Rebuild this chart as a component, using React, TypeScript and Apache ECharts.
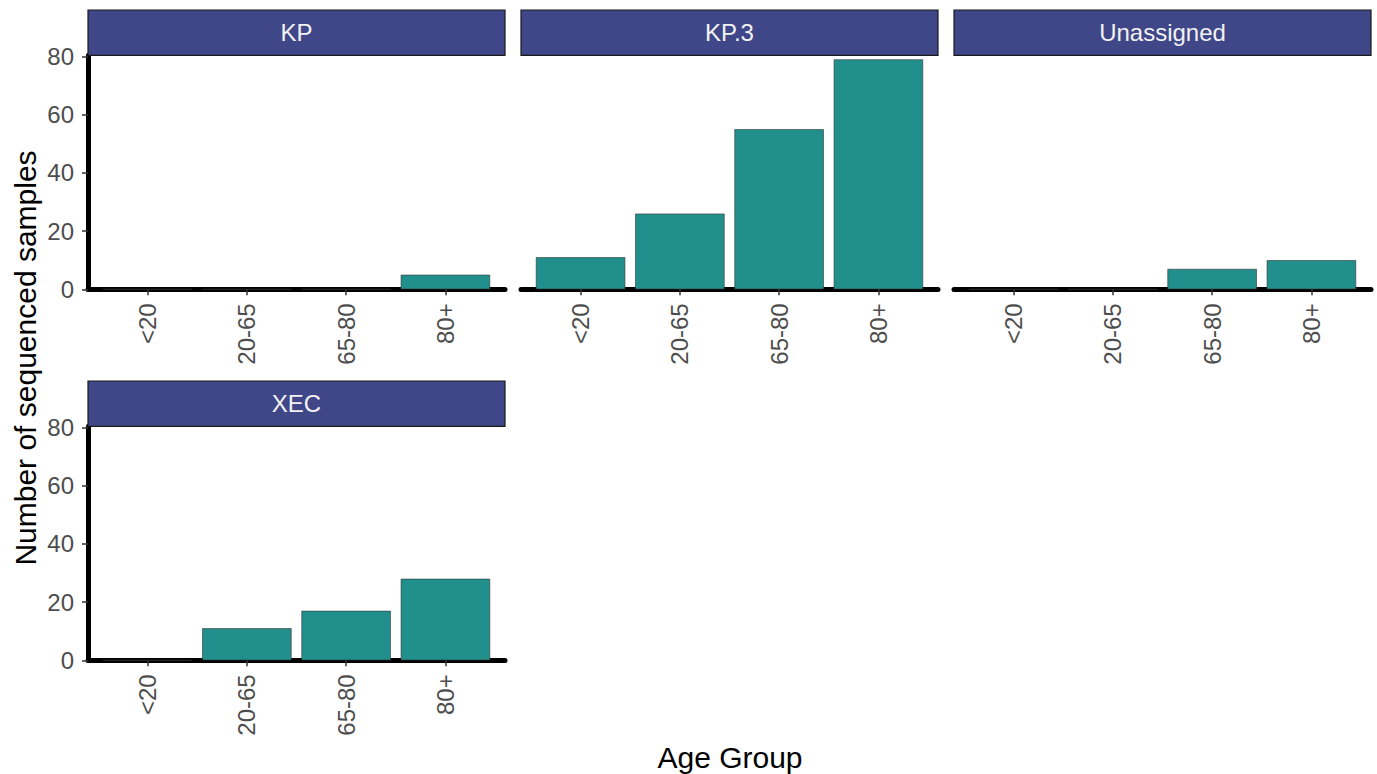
import React, { useEffect, useRef } from "react";
import * as echarts from "echarts";

const ageGroups = ["<20", "20-65", "65-80", "80+"];
const panelNames = ["KP", "KP.3", "Unassigned", "XEC"];
const kpValues = [0, 0, 0, 5];
const kp3Values = [11, 26, 55, 79];
const unassignedValues = [0, 0, 7, 10];
const xecValues = [0, 11, 17, 28];
const yTickValues = [0, 20, 40, 60, 80];
const xTitle = "Age Group";
const yTitle = "Number of sequenced samples";

const W = 1377;
const H = 774;
const FONT = "Liberation Sans, Arial, Helvetica, sans-serif";
const panelW = 417;
const panelH = 234;
const stripH = 45.3;
const xMin = 0.4;
const xMax = 4.6;
const yMax = 80.4;
const layout = [
  { left: 88, top: 55.3, showY: true },
  { left: 521, top: 55.3, showY: false },
  { left: 954, top: 55.3, showY: false },
  { left: 88, top: 426.3, showY: true },
];

export default function App() {
  const ref = useRef<HTMLDivElement>(null);
  useEffect(() => {
    if (!ref.current) return;
    const chart = echarts.init(ref.current, null, { renderer: "svg" });
    const seriesValues = [kpValues, kp3Values, unassignedValues, xecValues];
    const unit = panelW / (xMax - xMin);
    const grids = layout.map((l) => ({
      left: l.left,
      top: l.top,
      width: panelW,
      height: panelH,
      containLabel: false,
    }));
    const xAxes = layout.map((l, i) => ({
      type: "value",
      gridIndex: i,
      min: xMin,
      max: xMax,
      splitLine: { show: false },
      axisLine: { show: true, onZero: false, lineStyle: { color: "#000", width: 5 } },
      axisTick: {
        show: true,
        customValues: [1, 2, 3, 4],
        length: 6,
        lineStyle: { color: "#333", width: 1.5 },
      },
      axisLabel: {
        show: true,
        customValues: [1, 2, 3, 4],
        rotate: 90,
        margin: 14,
        color: "#4D4D4D",
        fontSize: 24,
        fontFamily: FONT,
        formatter: (v: number) => ageGroups[Math.round(v) - 1] ?? "",
      },
    }));
    const yAxes = layout.map((l, i) => ({
      type: "value",
      gridIndex: i,
      min: 0,
      max: yMax,
      show: true,
      splitLine: { show: false },
      axisLine: {
        show: l.showY,
        onZero: false,
        lineStyle: { color: "#000", width: 5 },
      },
      axisTick: {
        show: l.showY,
        customValues: yTickValues,
        length: 6,
        lineStyle: { color: "#333", width: 1.5 },
      },
      axisLabel: {
        show: l.showY,
        customValues: yTickValues,
        margin: 14,
        color: "#4D4D4D",
        fontSize: 24,
        fontFamily: FONT,
      },
    }));
    const series = seriesValues.map((vals, i) => ({
      type: "bar",
      name: panelNames[i],
      xAxisIndex: i,
      yAxisIndex: i,
      barWidth: unit * 0.9,
      data: vals.map((v, k) => [k + 1, v]),
      itemStyle: { color: "#21908C", borderColor: "#333333", borderWidth: 0.6 },
      silent: true,
    }));
    const graphics: any[] = [];
    layout.forEach((l, i) => {
      graphics.push({
        type: "rect",
        shape: { x: l.left, y: l.top - stripH, width: panelW, height: stripH },
        style: { fill: "#3F4788", stroke: "#1a1a1a", lineWidth: 1.2 },
        z: 10,
      });
      graphics.push({
        type: "text",
        x: l.left + panelW / 2,
        y: l.top - stripH / 2,
        style: {
          text: panelNames[i],
          fill: "#F2F2F2",
          fontSize: 24,
          fontFamily: FONT,
          align: "center",
          verticalAlign: "middle",
        },
        z: 11,
      });
    });
    graphics.push({
      type: "text",
      x: 25,
      y: 358,
      rotation: Math.PI / 2,
      style: {
        text: yTitle,
        fill: "#000",
        fontSize: 30,
        fontFamily: FONT,
        align: "center",
        verticalAlign: "middle",
      },
    });
    graphics.push({
      type: "text",
      x: 730,
      y: 757,
      style: {
        text: xTitle,
        fill: "#000",
        fontSize: 30,
        fontFamily: FONT,
        align: "center",
        verticalAlign: "middle",
      },
    });
    chart.setOption({
      animation: false,
      backgroundColor: "#fff",
      grid: grids,
      xAxis: xAxes,
      yAxis: yAxes,
      series,
      graphic: graphics,
    });
    return () => chart.dispose();
  }, []);
  return (
    <div
      ref={ref}
      style={{ position: "fixed", left: 0, top: 0, width: W, height: H }}
    />
  );
}
